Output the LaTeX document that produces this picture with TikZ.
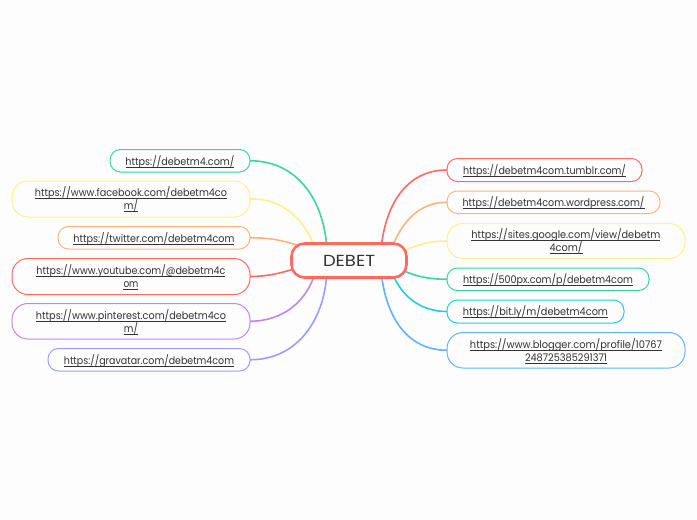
\documentclass[tikz,border=0pt]{standalone}
\usepackage{fontspec}
\usepackage{graphicx}
\setmainfont{Poppins}
\usetikzlibrary{backgrounds}
\definecolor{cteal}{HTML}{3DD3A2}
\definecolor{cyel}{HTML}{FFF08C}
\definecolor{cora}{HTML}{FFB47E}
\definecolor{cred}{HTML}{FF6B63}
\definecolor{cpur}{HTML}{C584E8}
\definecolor{cvio}{HTML}{A09CFF}
\definecolor{cblu}{HTML}{62B2FF}
\definecolor{ccya}{HTML}{1FD0D8}
\definecolor{ctxt}{HTML}{333333}
\definecolor{cbg}{HTML}{FDFDFD}
\newcommand{\lnk}[2]{\raisebox{0pt}[9.5pt][1pt]{\rlap{\rule[-2.2pt]{#1pt}{0.55pt}}\resizebox{#1pt}{\height}{#2}}}
\tikzset{
  linkbox/.style={draw=#1,line width=1pt,outer sep=0pt,fill=cbg,rounded corners=10.5pt,anchor=north west,inner sep=0pt,text=ctxt,font=\fontsize{10.5}{13}\selectfont,align=center},
  tallbox/.style={linkbox=#1,rounded corners=16pt},
  branch/.style={draw=#1,line width=1.6pt,line cap=round},
}
\newcommand{\bx}[8]{% name, colour, style, x0, y0, x1, y1, text
  \path node[#3=#2,minimum width={(#6-#4)*1pt},minimum height={(#7-#5)*1pt}] (#1) at (#4,#5) {#8};}
\begin{document}
\begin{tikzpicture}[x=1pt,y=-1pt]
\useasboundingbox (0,0) rectangle (697,520);
\begin{scope}[on background layer]
\fill[cbg] (0,0) rectangle (697,520);
\end{scope}
\node[draw=cred,line width=2.6pt,fill=cbg,rounded corners=13pt,minimum width=115pt,minimum height=34pt,inner sep=0pt,text=ctxt] (c) at (349,260.5) {\resizebox{52pt}{\height}{\fontsize{16}{18}\selectfont DEBET}};
\bx{la}{cteal}{linkbox}{110}{149.5}{250}{172}{\lnk{109}{https://debetm4.com/}}
\bx{lb}{cyel}{tallbox}{12}{181}{250}{217}{\lnk{192}{https://www.facebook.com/debetm4co}\\\lnk{14}{m/}}
\bx{lc}{cora}{linkbox}{58}{226.5}{250}{249}{\lnk{161}{https://twitter.com/debetm4com}}
\bx{ld}{cred}{tallbox}{12}{258.5}{250}{294.5}{\lnk{189}{https://www.youtube.com/@debetm4c}\\\lnk{15}{om}}
\bx{le}{cpur}{tallbox}{12}{303.5}{250}{339}{\lnk{190}{https://www.pinterest.com/debetm4co}\\\lnk{14}{m/}}
\bx{lf}{cvio}{linkbox}{48}{348.5}{250}{371}{\lnk{170}{https://gravatar.com/debetm4com}}
\bx{ra}{cred}{linkbox}{447}{158.5}{642}{181.5}{\lnk{163}{https://debetm4com.tumblr.com/}}
\bx{rb}{cora}{linkbox}{447}{191}{660}{213.5}{\lnk{182}{https://debetm4com.wordpress.com/}}
\bx{rc}{cyel}{tallbox}{447}{223.5}{685}{258.5}{\lnk{189}{https://sites.google.com/view/debetm}\\\lnk{33}{4com/}}
\bx{rd}{cteal}{linkbox}{447}{268}{649}{290.5}{\lnk{170}{https://500px.com/p/debetm4com}}
\bx{re}{ccya}{linkbox}{447}{300}{624}{323}{\lnk{145}{https://bit.ly/m/debetm4com}}
\bx{rf}{cblu}{tallbox}{447}{332.5}{685}{368}{\lnk{192}{https://www.blogger.com/profile/10767}\\\lnk{82}{248725385291371}}
\begin{scope}[on background layer]
\coordinate (tla) at (327,250); \coordinate (tlb) at (316,250);
\coordinate (tlc) at (305,248); \coordinate (tld) at (305,266);
\coordinate (tle) at (316,270); \coordinate (tlf) at (327,270);
\coordinate (tra) at (381,250); \coordinate (trb) at (391,250);
\coordinate (trc) at (395,255); \coordinate (trd) at (395,267);
\coordinate (tre) at (391,270); \coordinate (trf) at (381,270);
\draw[branch=cteal] (la.east) to[out=0,in=93,looseness=1.05] (tla);
\draw[branch=cyel] (lb.east) to[out=2,in=110,looseness=1] (tlb);
\draw[branch=cora] (lc.east) to[out=0,in=160,looseness=1] (tlc);
\draw[branch=cred] (ld.east) to[out=0,in=195,looseness=1] (tld);
\draw[branch=cpur] (le.east) to[out=0,in=-105,looseness=1] (tle);
\draw[branch=cvio] (lf.east) to[out=0,in=-92,looseness=1.05] (tlf);
\draw[branch=cred] (ra.west) to[out=180,in=85,looseness=1.05] (tra);
\draw[branch=cora] (rb.west) to[out=180,in=70,looseness=1] (trb);
\draw[branch=cyel] (rc.west) to[out=180,in=25,looseness=1] (trc);
\draw[branch=cteal] (rd.west) to[out=180,in=-25,looseness=1] (trd);
\draw[branch=ccya] (re.west) to[out=180,in=-70,looseness=1] (tre);
\draw[branch=cblu] (rf.west) to[out=180,in=-85,looseness=1.05] (trf);
\end{scope}
\end{tikzpicture}
\end{document}
